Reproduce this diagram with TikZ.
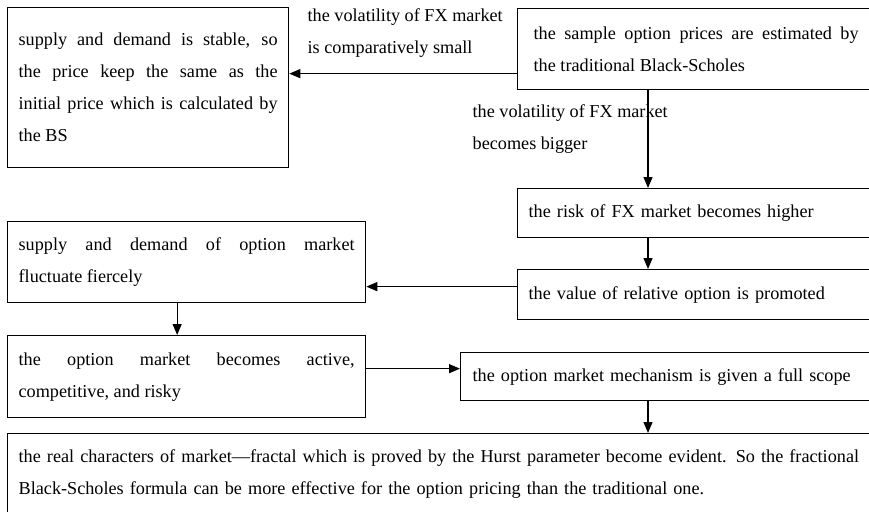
\documentclass[tikz,border=0pt]{standalone}
\usepackage{fontspec}
\setmainfont{Liberation Serif}
\usetikzlibrary{arrows.meta,positioning,calc}

\begin{document}
\begin{tikzpicture}[x=1pt, y=-1pt, >={Triangle[length=11pt,width=9pt]},
    line width=1.3pt,
    every node/.style={font=\fontsize{18.2}{32}\selectfont},
    box/.style={draw, anchor=north west, inner xsep=11pt, inner ysep=0pt, align=justify},
    note/.style={anchor=west, inner sep=0pt, align=left}]
  \useasboundingbox (0,0) rectangle (869,511);
  \clip (0,0) rectangle (869,511);
  \coordinate (col) at (648,0);
  % boxes
  \node[box, text width=259pt, minimum height=160pt] (stable) at (7,7)
    {supply and demand is stable, so\linebreak the price keep the same as the\linebreak initial price which is calculated by\linebreak the BS\par\vspace{14pt}};
  \node[box, inner xsep=16pt, text width=325pt, minimum height=81pt] (sample) at (517,8)
    {the sample option prices are estimated by\linebreak the traditional Black-Scholes};
  \node[box, align=left, text width=345pt, minimum height=49pt] (risk) at (517,188)
    {the risk of FX market becomes higher};
  \node[box, align=left, text width=345pt, minimum height=50pt] (value) at (517,269)
    {the value of relative option is promoted};
  \node[box, text width=336pt, minimum height=81pt] (fluct) at (7,221)
    {supply and demand of option market\linebreak fluctuate fiercely};
  \node[box, text width=336pt, minimum height=82pt] (active) at (7,335)
    {the option market becomes active,\linebreak competitive, and risky};
  \node[box, align=left, inner xsep=12pt, text width=400pt, minimum height=48pt] (scope) at (460,352)
    {the option market mechanism is given a full scope};
  \node[box, align=left, text width=900pt, minimum height=80pt] (fractal) at (7,433)
    {the real characters of market---fractal which is proved by the Hurst parameter become evident. So the fractional\\
     Black-Scholes formula can be more effective for the option pricing than the traditional one.};
  % labels
  \node[note] (small) at (307,33.5) {the volatility of FX market\\is comparatively small};
  \node[note] (bigger) at (472,129) {the volatility of FX market\\becomes bigger};
  % arrows
  \coordinate (p1) at ($(sample.west)+(0,24.5)$);
  \coordinate (p2) at ($(value.west)+(0,-8)$);
  \coordinate (p3) at ($(active.east)+(0,-8)$);
  \draw[->] (p1) -- (p1 -| stable.east);
  \draw[->] (sample.south -| col) -- (risk.north -| col);
  \draw[->] (risk.south -| col) -- (value.north -| col);
  \draw[->] (p2) -- (p2 -| fluct.east);
  \draw[->] ([xshift=-9.5pt]fluct.south) -- ([xshift=-9.5pt]active.north);
  \draw[->] (p3) -- (p3 -| scope.west);
  \draw[->] (scope.south -| col) -- (fractal.north -| col);
\end{tikzpicture}
\end{document}
